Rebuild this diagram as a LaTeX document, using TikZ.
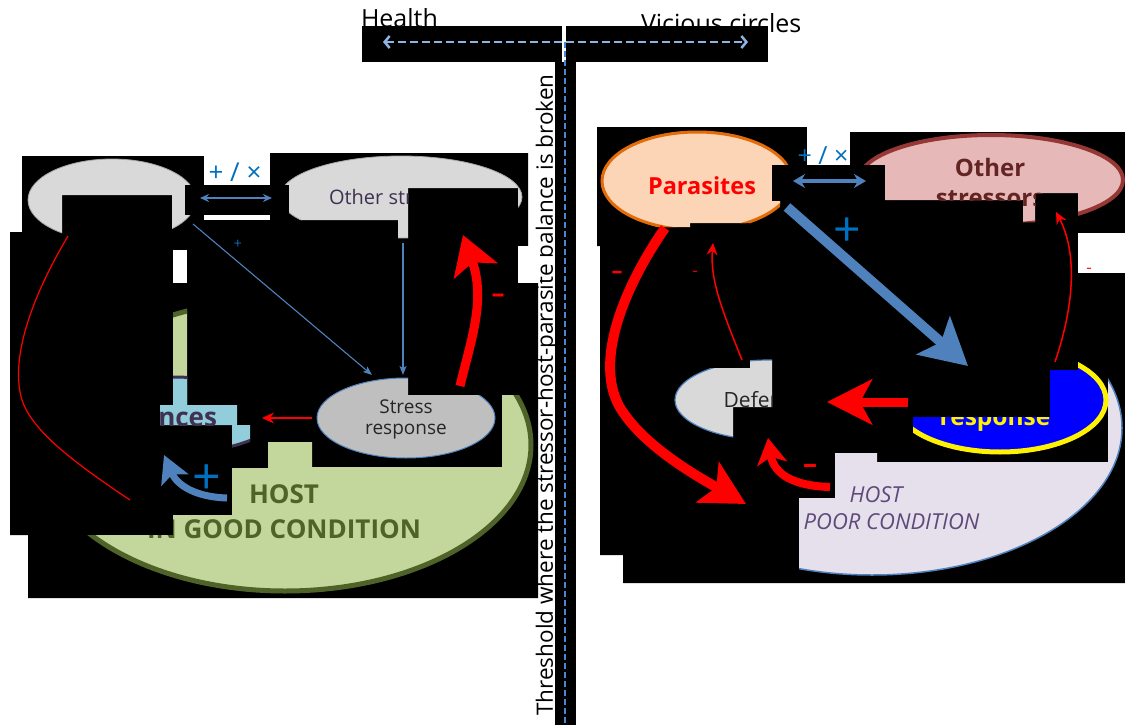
\documentclass[tikz,border=0pt]{standalone}
\usepackage{fontspec}
\setmainfont{Open Sans}
\usetikzlibrary{arrows.meta}
\definecolor{steel}{HTML}{4F81BD}
\definecolor{tblue}{HTML}{0070C0}
\definecolor{dashl}{HTML}{8DB4E2}
\definecolor{dashv}{HTML}{4A86D6}
\definecolor{gfill}{HTML}{C3D69B}
\definecolor{gline}{HTML}{4F6228}
\definecolor{dfill}{HTML}{92CDDC}
\definecolor{dline}{HTML}{3F3151}
\definecolor{lgray}{HTML}{D9D9D9}
\definecolor{sgray}{HTML}{BFBFBF}
\definecolor{pfill}{HTML}{FBD5B5}
\definecolor{pline}{HTML}{E36C09}
\definecolor{ofill}{HTML}{E6B9B8}
\definecolor{oline}{HTML}{953735}
\definecolor{otext}{HTML}{632523}
\definecolor{hfill}{HTML}{E5E0EC}
\definecolor{htext}{HTML}{5F497A}
\definecolor{dtext}{HTML}{262626}
\newcommand{\fz}[1]{\fontsize{#1}{#1}\selectfont}
\begin{document}
\begin{tikzpicture}[x=1pt,y=-1pt,
  every node/.style={inner sep=0pt,outer sep=0pt},
  redthin/.style={draw=red,line width=1.5pt,-{Stealth[length=12pt,width=11pt,inset=4pt]}},
  bluethin/.style={draw=steel,line width=1.1pt,-{Stealth[length=9pt,width=7pt,inset=2pt]}},
  minus/.style={text=red,font=\bfseries\fz{#1}},
]
\useasboundingbox (0,0) rectangle (1125,725);
\fill[white] (0,0) rectangle (1125,725);

% ---------------- top
\node[anchor=base west,font=\fz{25}] (health) at (361,28) {Health};
\node[anchor=base west,font=\fz{25}] (vicious) at (641,33) {Vicious circles};
\fill[black] (362,26) rectangle (562,62);
\fill[black] (566,26) rectangle (768,62);
\fill[black] (555,62) rectangle (576,725);
\coordinate (hl) at (383,42);
\coordinate (hr) at (748,42);
\coordinate (hm) at (565,42);
\coordinate (vb) at (565,725);
\draw[dashl,line width=2.5pt,dash pattern=on 8pt off 4pt,{Straight Barb[length=5pt,width=12pt]}-{Straight Barb[length=5pt,width=12pt]}] (hl) -- (hr);
\draw[dashv,line width=2.8pt,dash pattern=on 6pt off 3pt] (hm) -- (vb);
\node[rotate=90,font=\fz{22.5}] (thr) at (547,395) {Threshold where the stressor-host-parasite balance is broken};

% ---------------- left diagram
\fill[black] (22,156) -- (204,156) -- (204,153) -- (528,153) -- (528,246) -- (518,246) -- (518,283) -- (538,283) -- (538,598) -- (28,598) -- (28,535) -- (10,535) -- (10,232) -- (22,232) -- cycle;
\fill[white] (204,148) rectangle (270,185);
\fill[white] (204,215) rectangle (270,220);
\fill[white] (173,250) rectangle (187,283);
\fill[white] (518,246) rectangle (540,283);

% host (good condition)
\begin{scope}
\clip (173,290) rectangle (187,425) (28,535) rectangle (173,600) (173,515) rectangle (232,600)
      (232,468) rectangle (268,600) (268,442) rectangle (312,600) (312,467) rectangle (502,600) (502,395) rectangle (545,600);
\draw[fill=gfill,draw=gline,line width=5pt] (285,445) ellipse [x radius=246pt,y radius=146pt];
\node[font=\bfseries\fz{26},text=gline] (hostA) at (284,494) {HOST};
\node[font=\bfseries\fz{26},text=gline] (hostB) at (284,529) {IN GOOD CONDITION};
\end{scope}

% defences (left)
\begin{scope}
\clip (173,290) rectangle (187,425) (160,405) rectangle (237,425) (232,425) rectangle (250,450);
\draw[fill=dfill,draw=dline,line width=3pt] (172,415) ellipse [x radius=105pt,y radius=38pt];
\node[anchor=base east,font=\bfseries\fz{26},text=dline] (defA) at (217,426) {Defences};
\end{scope}

% stress response (left)
\begin{scope}
\clip (300,360) rectangle (408,470) (408,395) rectangle (505,470);
\draw[fill=sgray,draw=steel,line width=1pt] (406,418) ellipse [x radius=89pt,y radius=40pt];
\end{scope}
\node[font=\fontsize{19}{21}\selectfont,text=dtext,align=center] (srA) at (406,419) {Stress\\response};

% parasites (left, grey)
\begin{scope}
\clip (20,150) rectangle (62,250) (62,150) rectangle (172,195) (172,150) rectangle (204,250);
\draw[fill=lgray,draw=gray!70,line width=0.8pt] (112,200) ellipse [x radius=84pt,y radius=41pt];
\end{scope}

% other stressors (left, grey)
\begin{scope}
\clip (270,150) rectangle (398,220) (398,150) rectangle (408,246) (408,150) rectangle (518,188) (518,150) rectangle (530,246);
\draw[fill=lgray,draw=gray!70,line width=0.8pt] (401,197) ellipse [x radius=121pt,y radius=41pt];
\node[font=\fz{20},text=dline] (osA) at (401,197) {Other stressors};
\end{scope}
\fill[black] (185,185) rectangle (289,215);

% left connectors
\coordinate (a1) at (200,198);
\coordinate (a2) at (272,198);
\draw[steel,line width=1.5pt,{Stealth[length=9pt,width=8pt]}-{Stealth[length=9pt,width=8pt]}] (a1) -- (a2);
\node[font=\fz{26},text=tblue] (pxA) at (235,172) {+ / ×};
\coordinate (a3) at (193,224);
\coordinate (a4) at (372,375);
\draw[bluethin] (a3) -- (a4);
\node[font=\fz{14},text=tblue] (plA) at (238,244) {+};
\coordinate (a5) at (403,243);
\coordinate (a6) at (403,375);
\draw[bluethin] (a5) -- (a6);
\coordinate (a7) at (460,386);
\coordinate (a8) at (463,235);
\draw[red,line width=9pt,-{Stealth[length=38pt,width=46pt,inset=9pt]}] (a7) .. controls (471,340) and (486,300) .. (a8);
\node[minus=26] (mA) at (498,298) {–};
\coordinate (a9) at (312,418);
\coordinate (a10) at (262,418);
\draw[redthin] (a9) -- (a10);
\coordinate (a11) at (68,236);
\coordinate (a12) at (22,400);
\coordinate (a13) at (130,500);
\draw[red,line width=1.2pt] (a11) .. controls (30,300) and (10,360) .. (a12) .. controls (32,430) and (70,460) .. (a13);
\coordinate (a14) at (227,498);
\coordinate (a15) at (164,455);
\draw[steel,line width=7pt,-{Stealth[length=27pt,width=29pt,inset=6pt]}] (a14) .. controls (195,497) and (177,485) .. (a15);
\node[font=\fz{50},text=tblue] (plB) at (207,480) {+};

% ---------------- right diagram
\fill[black] (597,127) -- (807,127) -- (807,132) -- (1125,132) -- (1125,583) -- (623,583) -- (623,555) -- (600,555) -- (600,246) -- (597,246) -- cycle;
\fill[white] (807,110) rectangle (850,165);
\fill[white] (1078,233) rectangle (1125,273);

% host (poor condition)
\begin{scope}
\clip (799,498) rectangle (835,600) (835,453) rectangle (877,600) (877,462) rectangle (1125,600) (1108,300) rectangle (1125,470);
\draw[fill=hfill,draw=steel,line width=1.5pt] (872,428) ellipse [x radius=250pt,y radius=147pt];
\node[font=\itshape\fz{22},text=htext] (hostC) at (876,495) {HOST};
\node[font=\itshape\fz{22},text=htext] (hostD) at (878,522) {IN POOR CONDITION};
\end{scope}

% stress response (right)
\begin{scope}
\clip (913,417) rectangle (1050,470) (1050,370) rectangle (1078,470) (1078,340) rectangle (1125,470);
\draw[fill=blue,draw=yellow,line width=5pt] (1000,400) ellipse [x radius=106pt,y radius=52pt];
\node[anchor=base,font=\bfseries\fz{24.5},text=yellow] (srB) at (995,425) {response};
\end{scope}

% defences (right)
\begin{scope}
\clip (660,368) rectangle (733,450) (733,368) rectangle (750,407) (750,350) rectangle (772,407);
\draw[fill=lgray,draw=steel,line width=1.2pt] (769,400) ellipse [x radius=94pt,y radius=40pt];
\node[anchor=base,font=\fz{21},text=dtext] (defB) at (769,407) {Defences};
\end{scope}

% parasites (right)
\begin{scope}
\clip (597,127) rectangle (690,227) (690,127) rectangle (750,223) (750,127) rectangle (780,227) (780,127) rectangle (807,165);
\draw[fill=pfill,draw=pline,line width=3pt] (697,181) ellipse [x radius=95pt,y radius=49pt];
\node[font=\bfseries\fz{23.5},text=red] (parB) at (702,186) {Parasites};
\end{scope}

% other stressors (right)
\begin{scope}
\clip (850,130) rectangle (885,165) (885,130) rectangle (1023,200) (1023,130) rectangle (1035,222) (1035,130) rectangle (1078,193) (1078,130) rectangle (1125,233);
\draw[fill=ofill,draw=oline,line width=4pt] (991,180) ellipse [x radius=132pt,y radius=45pt];
\node[font=\bfseries\fontsize{24}{30}\selectfont,text=otext,align=center] (osB) at (990,182) {Other\\stressors};
\end{scope}
\fill[black] (772,165) rectangle (885,201);

% right connectors
\coordinate (b1) at (793,181);
\coordinate (b2) at (866,181);
\draw[steel,line width=4pt,{Stealth[length=12pt,width=14pt]}-{Stealth[length=12pt,width=14pt]}] (b1) -- (b2);
\node[font=\fz{25},text=tblue] (pxB) at (823,156) {+ / ×};
\coordinate (b3) at (787,207);
\coordinate (b4) at (968,366);
\draw[steel,line width=10pt,-{Stealth[length=46pt,width=50pt,inset=10pt]}] (b3) -- (b4);
\node[font=\fz{48},text=tblue] (plC) at (847,232) {+};
\coordinate (b5) at (665,228);
\coordinate (b6) at (625,415);
\coordinate (b7) at (746,504);
\draw[red,line width=10pt,-{Stealth[length=44pt,width=46pt,inset=10pt]}] (b5) .. controls (622,290) and (590,370) .. (b6) .. controls (650,450) and (700,478) .. (b7);
\node[minus=22] (mB) at (617,275) {–};
\node[minus=10] (mC) at (695,273) {–};
\node[minus=10] (mD) at (1089,270) {–};
\coordinate (b8) at (742,360);
\coordinate (b9) at (713,243);
\draw[redthin] (b8) .. controls (722,310) and (710,280) .. (b9);
\coordinate (b10) at (1055,362);
\coordinate (b11) at (1056,212);
\draw[redthin] (b10) .. controls (1076,300) and (1076,250) .. (b11);
\coordinate (b12) at (908,402);
\coordinate (b13) at (827,402);
\draw[red,line width=9pt,-{Stealth[length=45pt,width=45pt,inset=12pt]}] (b12) -- (b13);
\coordinate (b14) at (830,487);
\coordinate (b15) at (768,438);
\draw[red,line width=8pt,-{Stealth[length=26pt,width=30pt,inset=7pt]}] (b14) .. controls (795,486) and (774,475) .. (b15);
\node[minus=28] (mE) at (810,469) {–};
\end{tikzpicture}
\end{document}
